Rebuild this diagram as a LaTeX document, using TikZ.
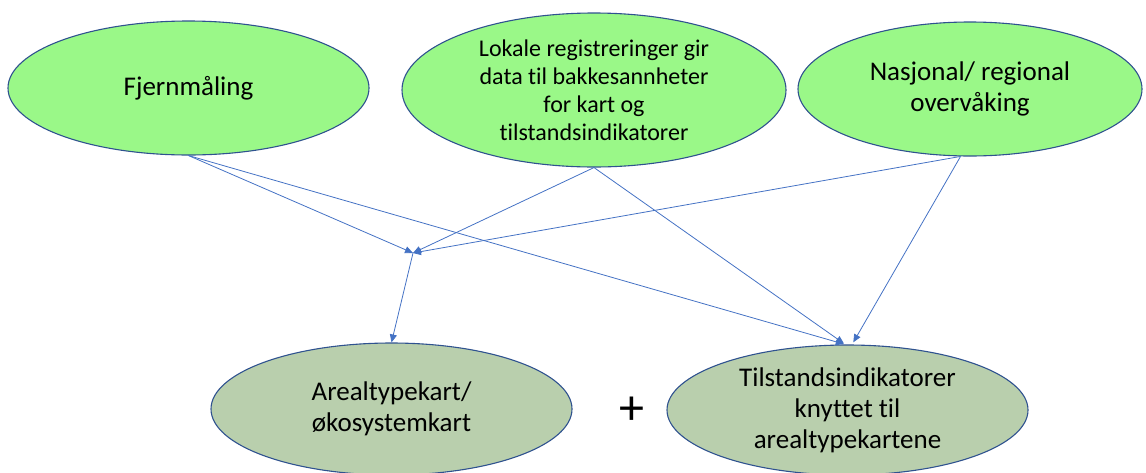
\documentclass[tikz,border=0pt]{standalone}
\usepackage{fontspec}
\setmainfont{Carlito}[Ligatures={NoCommon}]
\usetikzlibrary{shapes.geometric,arrows.meta,calc}
\definecolor{topfill}{RGB}{154,248,136}
\definecolor{botfill}{RGB}{185,207,173}
\definecolor{rim}{RGB}{47,82,143}
\definecolor{link}{RGB}{68,114,196}
\begin{document}
\begin{tikzpicture}[x=1pt,y=-1pt,
  blob/.style={ellipse, draw=rim, line width=1.1pt, inner sep=0pt, align=center,
               text=black, font=\fontsize{27}{31}\selectfont},
  source/.style={blob, fill=topfill},
  result/.style={blob, fill=botfill},
  feed/.style={draw=link, line width=0.8pt, -{Triangle[length=8pt,width=7pt]}}]
\useasboundingbox (0,0) rectangle (1146,472);

% data sources
\node[source, minimum width=361, minimum height=134] (fjern) at (188.5,88) {Fjernmåling};
\node[source, minimum width=384, minimum height=154, font=\fontsize{24}{28}\selectfont]
  (lokal) at (594,90)
  {Lokale registreringer gir\\data til bakkesannheter\\for kart og\\tilstandsindikatorer};
\node[source, minimum width=344, minimum height=134] (nasj) at (970,89)
  {Nasjonal/ regional\\overvåking};

% products
\node[result, minimum width=361, minimum height=132] (areal) at (391.5,409)
  {Arealtypekart/\\økosystemkart};
\node[result, minimum width=361, minimum height=130] (tils) at (847.5,410)
  {Tilstandsindikatorer\\knyttet til\\arealtypekartene};
\node[font=\fontsize{50}{50}\selectfont] (plus) at (632,411) {+};

% meeting point of the sources feeding the map
\coordinate (hub) at (413,253);

\draw[feed] (fjern.south) -- (hub);
\draw[feed] (lokal.south) -- (hub);
\draw[feed] (nasj.262) -- (hub);
\draw[feed] (hub) -- (areal.north);

\draw[feed, shorten >=1.5pt] (fjern.south) -- (tils.92);
\draw[feed, shorten >=1.5pt] (lokal.south) -- (tils.92);
\draw[feed, shorten >=2.5pt] (nasj.262) -- (tils.86);
\end{tikzpicture}
\end{document}
